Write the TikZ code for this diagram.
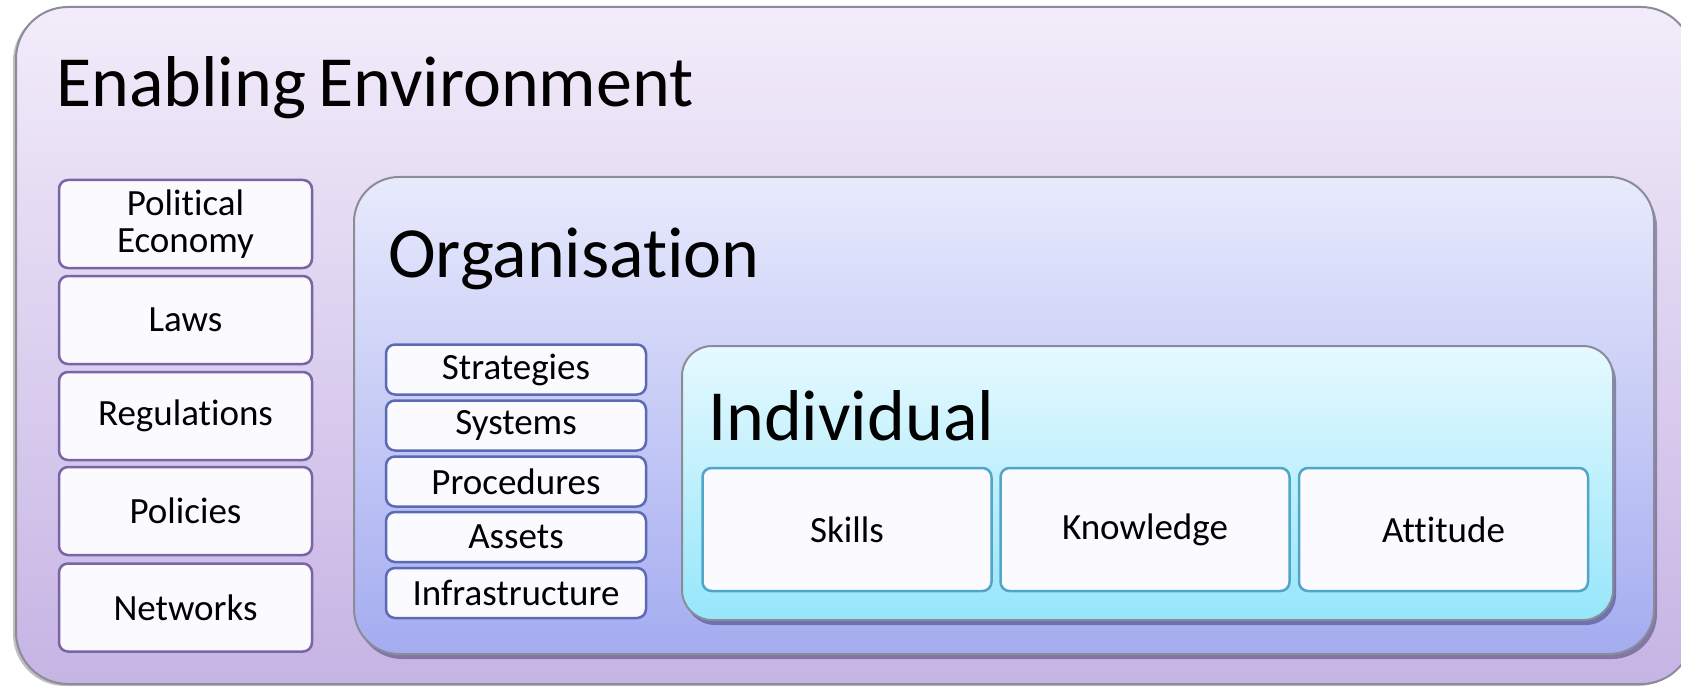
\documentclass[tikz,border=0pt]{standalone}
\usepackage{fontspec}
\setmainfont{Carlito}[RawFeature={-liga}]
\usetikzlibrary{shadows}
\definecolor{envtop}{RGB}{242,236,250}
\definecolor{envbot}{RGB}{198,180,228}
\definecolor{orgtop}{RGB}{232,234,252}
\definecolor{orgbot}{RGB}{164,172,240}
\definecolor{indtop}{RGB}{230,249,255}
\definecolor{indbot}{RGB}{150,230,250}
\definecolor{frame}{RGB}{140,140,152}
\definecolor{leftborder}{RGB}{122,100,168}
\definecolor{orgsubborder}{RGB}{92,106,182}
\definecolor{indsubborder}{RGB}{80,165,200}
\definecolor{boxfill}{RGB}{250,250,255}
\tikzset{
  container/.style={draw=frame, line width=2pt, inner sep=0pt},
  envbox/.style={container, rounded corners=52pt, top color=envtop, bottom color=envbot,
    drop shadow={shadow xshift=-3pt, shadow yshift=-2pt, opacity=0.25, fill=black}},
  orgbox/.style={container, rounded corners=45pt, top color=orgtop, bottom color=orgbot,
    drop shadow={shadow xshift=3pt, shadow yshift=-5pt, opacity=0.35, fill=black!80!blue}},
  indbox/.style={container, rounded corners=30pt, top color=indtop, bottom color=indbot,
    drop shadow={shadow xshift=3pt, shadow yshift=-5pt, opacity=0.35, fill=black!80!blue}},
  titletext/.style={anchor=base west, inner sep=0pt, font=\fontsize{72}{80}\selectfont, text=black},
  subbox/.style={fill=boxfill, line width=2.5pt, rounded corners=9pt, inner sep=0pt,
    font=\fontsize{37}{37}\selectfont, text=black, align=center},
  leftbox/.style={subbox, draw=leftborder, minimum width=253pt, minimum height=88pt},
  orgsub/.style={subbox, draw=orgsubborder, minimum width=260pt, minimum height=50pt},
  indsub/.style={subbox, draw=indsubborder, minimum width=289pt, minimum height=123pt},
}
\begin{document}
\begin{tikzpicture}[x=1pt,y=-1pt]
\useasboundingbox (0,0) rectangle (1681,687);
\fill[white] (0,0) rectangle (1681,687);
% containers
\node[envbox, minimum width=1677pt, minimum height=677pt] (env) at (854.5,345.5) {};
\node[titletext] (envtitle) at (56,107) {Enabling\hspace{0.17em}Environment};
% left column
\node[leftbox] (pe) at (185.5,224) {Political\\Economy};
\node[leftbox] (laws) at (185.5,320) {Laws};
\node[leftbox] (reg) at (185.5,416) {Regulations};
\node[leftbox] (pol) at (185.5,511) {Policies};
\node[leftbox] (net) at (185.5,607.5) {Networks};
% organisation
\node[orgbox, minimum width=1300pt, minimum height=477pt] (org) at (1004,415.5) {};
\node[titletext] (orgtitle) at (388,277) {Organisation};
\node[orgsub] (strat) at (516,369.5) {Strategies};
\node[orgsub] (sys) at (516,425.5) {Systems};
\node[orgsub] (proc) at (516,481.5) {Procedures};
\node[orgsub] (assets) at (516,537) {Assets};
\node[orgsub] (infra) at (516,593) {Infrastructure};
% individual
\node[indbox, minimum width=931pt, minimum height=274pt] (ind) at (1147.5,483) {};
\node[titletext] (indtitle) at (708,440) {Individual};
\node[indsub] (skills) at (847,529.5) {Skills};
\node[indsub] (know) at (1145,529.5) {Knowledge};
\node[indsub] (att) at (1443.5,529.5) {Attitude};
\end{tikzpicture}
\end{document}
